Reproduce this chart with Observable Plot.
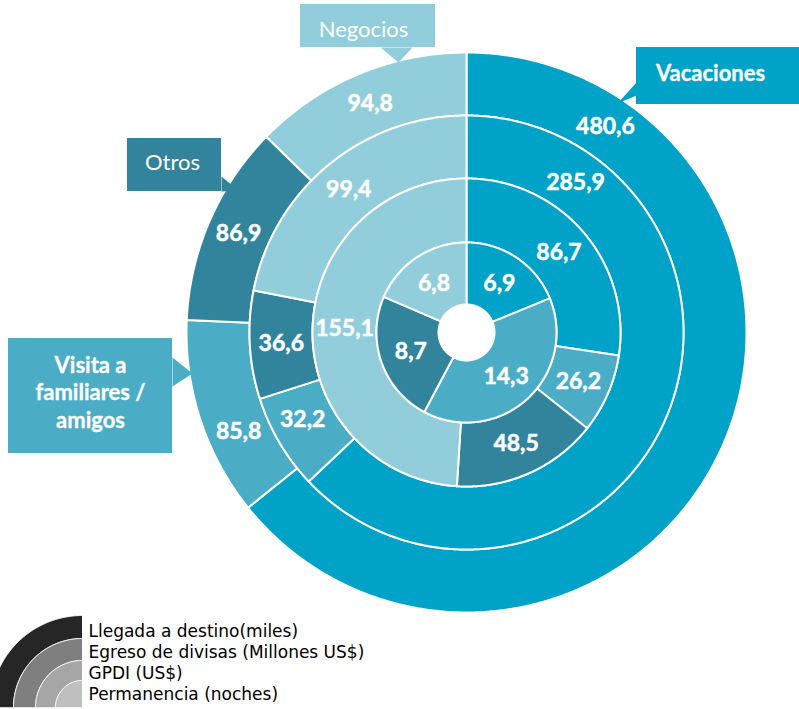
<!DOCTYPE html>
<html>
<head>
<meta charset="utf-8">
<script src="https://cdn.jsdelivr.net/npm/d3@7"></script>
<script src="https://cdn.jsdelivr.net/npm/@observablehq/plot@0.6"></script>
<style>
  html, body { margin: 0; padding: 0; background: #ffffff; }
  #chart svg { display: block; }
</style>
</head>
<body>
<div id="chart"></div>
<script>
// ---------- DATA ----------
const categories = ["Vacaciones", "Visita a familiares / amigos", "Otros", "Negocios"];
const rings = ["Llegada a destino(miles)", "Egreso de divisas (Millones US$)", "GPDI (US$)", "Permanencia (noches)"];
const llegada = [480.6, 85.8, 86.9, 94.8];
const egreso = [285.9, 32.2, 36.6, 99.4];
const gpdi = [86.7, 26.2, 48.5, 155.1];
const permanencia = [6.9, 14.3, 8.7, 6.8];
const calloutLabels = ["Vacaciones", "Visita a\nfamiliares /\namigos", "Otros", "Negocios"];

// ---------- STYLE / LAYOUT ----------
const catColors = ["#00A3C7", "#4BACC6", "#31849B", "#92CDDC"];
const ringGrays = ["#262626", "#7F7F7F", "#A6A6A6", "#BFBFBF"];
const W = 799, H = 709;
const CX = 466, CY = 332;
const ringEdges = [280, 217, 154, 90, 28];
const labelAngleDeg = {"0-0": 34, "1-0": 36, "0-1": 246.5, "1-1": 242};
const LX = 82, LY = 707;
const legendEdges = [92, 69, 47, 27, 0];

const ringValues = [llegada, egreso, gpdi, permanencia];
const fmt = v => v.toFixed(1).replace(".", ",");

// segments
const segments = [];
ringValues.forEach((vals, i) => {
  const total = d3.sum(vals);
  let acc = 0;
  vals.forEach((v, j) => {
    const a0 = acc / total * 2 * Math.PI;
    acc += v;
    const a1 = acc / total * 2 * Math.PI;
    segments.push({ring: i, j, cat: categories[j], value: v, a0, a1, r0: ringEdges[i + 1], r1: ringEdges[i], cx: CX, cy: CY});
  });
});

function arcPolygon(s, id) {
  const step = Math.PI / 360;
  const n = Math.max(2, Math.ceil((s.a1 - s.a0) / step));
  const pts = [];
  for (let k = 0; k <= n; k++) {
    const a = s.a0 + (s.a1 - s.a0) * k / n;
    pts.push({id, cat: s.cat, x: s.cx + s.r1 * Math.sin(a), y: s.cy - s.r1 * Math.cos(a)});
  }
  for (let k = n; k >= 0; k--) {
    const a = s.a0 + (s.a1 - s.a0) * k / n;
    if (s.r0 > 0) pts.push({id, cat: s.cat, x: s.cx + s.r0 * Math.sin(a), y: s.cy - s.r0 * Math.cos(a)});
  }
  if (s.r0 === 0) pts.push({id, cat: s.cat, x: s.cx, y: s.cy});
  return pts;
}

const ringPolys = segments.flatMap((s, k) => arcPolygon(s, "seg" + k));

const labels = segments.map(s => {
  const key = s.ring + "-" + s.j;
  const a = key in labelAngleDeg ? labelAngleDeg[key] * Math.PI / 180 : (s.a0 + s.a1) / 2;
  const r = (s.r0 + s.r1) / 2;
  return {x: CX + r * Math.sin(a), y: CY - r * Math.cos(a), text: fmt(s.value)};
});

// legend quarter rings
const legendSegs = rings.map((name, i) => ({cat: name, a0: -Math.PI / 2, a1: 0, r1: legendEdges[i], r0: legendEdges[i + 1], cx: LX, cy: LY}));
const legendPolys = legendSegs.flatMap((s, k) => arcPolygon(s, "leg" + k));
const legendText = rings.map((name, i) => ({x: 88, y: 631 + 21 * i, text: name}));

// callouts (annotation layout)
const calloutLayout = [
  {box: [636, 47, 805, 104], tip: [[636, 82], [617, 103], [636, 95]], tx: 710, ty: 72, bold: true},
  {box: [8, 338, 172, 453], tip: [[172, 357], [192, 373], [172, 386]], tx: 90, ty: 391, bold: true},
  {box: [127, 138, 221, 191], tip: [[221, 176], [238, 190], [221, 191]], tx: 172, ty: 162, bold: false},
  {box: [300, 4, 435, 47], tip: [[380, 47], [398, 62], [412, 47]], tx: 363, ty: 29, bold: false}
];
const callouts = calloutLayout.map((c, j) => ({...c, cat: categories[j], label: calloutLabels[j]}));
const pointerPts = callouts.flatMap((c, j) => c.tip.map(([x, y]) => ({id: "tip" + j, cat: c.cat, x, y})));

const chart = Plot.plot({
  width: W,
  height: H,
  margin: 0,
  x: {domain: [0, W], range: [0, W], axis: null},
  y: {domain: [0, H], range: [0, H], axis: null},
  color: {domain: [...categories, ...rings], range: [...catColors, ...ringGrays]},
  style: {background: "#ffffff", overflow: "hidden"},
  marks: [
    Plot.line(ringPolys, {x: "x", y: "y", z: "id", fill: "cat", stroke: "#ffffff", strokeWidth: 2, curve: "linear-closed"}),
    Plot.text(labels, {x: "x", y: "y", text: "text", fill: "#ffffff", stroke: "#ffffff", strokeWidth: 0.5, fontSize: 23, fontWeight: "bold", fontFamily: "Lato"}),
    Plot.line(pointerPts, {x: "x", y: "y", z: "id", fill: "cat", stroke: "none", curve: "linear-closed"}),
    Plot.rect(callouts, {x1: d => d.box[0], y1: d => d.box[1], x2: d => d.box[2], y2: d => d.box[3], fill: "cat"}),
    Plot.text(callouts.filter(d => d.bold), {x: "tx", y: "ty", text: "label", fill: "#ffffff", stroke: "#ffffff", strokeWidth: 0.3, fontSize: 22, fontWeight: "bold", fontFamily: "Lato", lineHeight: 1.25}),
    Plot.text(callouts.filter(d => !d.bold), {x: "tx", y: "ty", text: "label", fill: "#ffffff", fontSize: 22, fontFamily: "Lato"}),
    Plot.line(legendPolys, {x: "x", y: "y", z: "id", fill: "cat", stroke: "#ffffff", strokeWidth: 1, curve: "linear-closed"}),
    Plot.text(legendText, {x: "x", y: "y", text: "text", textAnchor: "start", fill: "#000000", fontSize: 17, fontFamily: "DejaVu Sans"})
  ]
});
document.getElementById("chart").appendChild(chart);
</script>
</body>
</html>
